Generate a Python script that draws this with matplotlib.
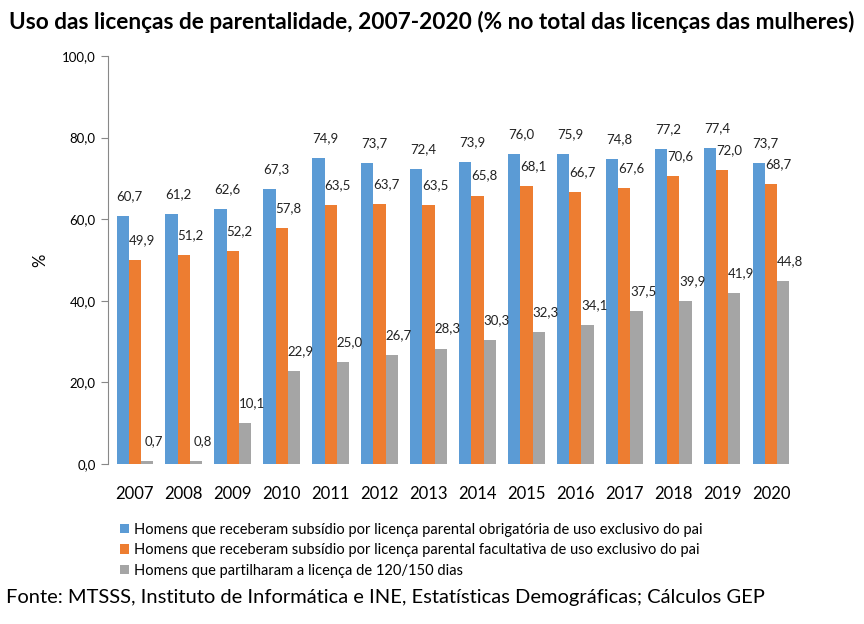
import matplotlib
matplotlib.use("Agg")
import matplotlib.pyplot as plt
from matplotlib.patches import Patch
import numpy as np

plt.rcParams['font.family'] = ['Lato', 'DejaVu Sans']

years = ["2007", "2008", "2009", "2010", "2011", "2012", "2013",
         "2014", "2015", "2016", "2017", "2018", "2019", "2020"]
obrigatoria = [60.7, 61.2, 62.6, 67.3, 74.9, 73.7, 72.4, 73.9, 76.0, 75.9, 74.8, 77.2, 77.4, 73.7]
facultativa = [49.9, 51.2, 52.2, 57.8, 63.5, 63.7, 63.5, 65.8, 68.1, 66.7, 67.6, 70.6, 72.0, 68.7]
partilha = [0.7, 0.8, 10.1, 22.9, 25.0, 26.7, 28.3, 30.3, 32.3, 34.1, 37.5, 39.9, 41.9, 44.8]

series_names = [
    "Homens que receberam subsídio por licença parental obrigatória de uso exclusivo do pai",
    "Homens que receberam subsídio por licença parental facultativa de uso exclusivo do pai",
    "Homens que partilharam a licença de 120/150 dias",
]
colors = ["#5B9BD5", "#ED7D31", "#A5A5A5"]

fig = plt.figure(figsize=(8.64, 6.24), dpi=100)
ax = fig.add_axes([0.125, 0.2564, 0.7986, 0.6539])

x = np.arange(len(years))
w = 0.25
for i, (vals, c) in enumerate(zip([obrigatoria, facultativa, partilha], colors)):
    pos = x + (i - 1) * w
    ax.bar(pos, vals, width=w, color=c, zorder=2)
    for p, v in zip(pos, vals):
        ax.annotate(f"{v:.1f}".replace(".", ","), (p, v), xytext=(5, 10),
                    textcoords="offset points", ha="center", va="bottom",
                    fontsize=9.5, color="#222222")

ax.set_xlim(-0.55, len(years) - 0.45)
ax.set_ylim(0, 100)
ax.set_yticks(np.arange(0, 101, 20))
ax.set_yticklabels([f"{t:.1f}".replace(".", ",") for t in np.arange(0, 101, 20)], fontsize=9.5)
ax.set_xticks(x)
ax.set_xticklabels(years, fontsize=12)
ax.tick_params(axis="x", length=0, pad=16)
ax.tick_params(axis="y", length=5, color="#888888", pad=4)
for s in ["top", "right", "bottom"]:
    ax.spines[s].set_visible(False)
ax.spines["left"].set_color("#888888")
ax.set_ylabel("%", fontsize=12, labelpad=10)

handles = [Patch(facecolor=c) for c in colors]
fig.legend(handles, series_names, loc="upper left", bbox_to_anchor=(0.132, 0.172),
           frameon=False, fontsize=10.5, handlelength=0.6, handleheight=0.6,
           handletextpad=0.35, labelspacing=0.45, borderaxespad=0)

fig.text(0.5, 0.965, "Uso das licenças de parentalidade, 2007-2020 (% no total das licenças das mulheres)",
         ha="center", va="center", fontsize=16.3, fontweight="bold")
fig.text(0.007, 0.043, "Fonte: MTSSS, Instituto de Informática e INE, Estatísticas Demográficas; Cálculos GEP",
         ha="left", va="center", fontsize=14.5)

fig.savefig("out.png", dpi=100)
